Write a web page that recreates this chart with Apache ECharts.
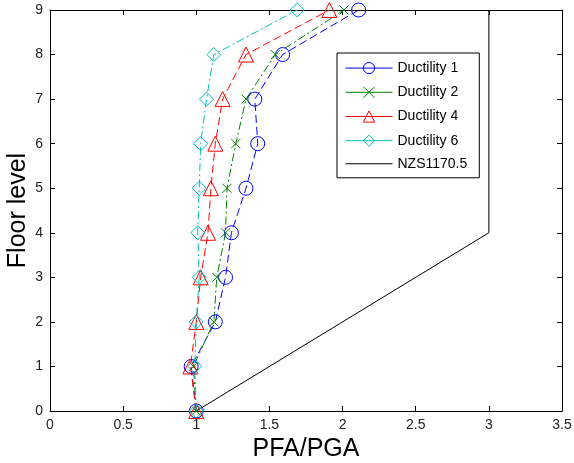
<!DOCTYPE html>
<html>
<head>
<meta charset="utf-8">
<script src="https://cdn.jsdelivr.net/npm/echarts@6/dist/echarts.min.js"></script>
<style>
  html, body { margin: 0; padding: 0; background: #fff; }
  #chart { width: 574px; height: 463px; }
</style>
</head>
<body>
<div id="chart"></div>
<script>
  // floor levels 0..9
  var floors = [0, 1, 2, 3, 4, 5, 6, 7, 8, 9];
  // PFA/PGA per floor
  var ductility1 = [1.00, 0.965, 1.13, 1.20, 1.24, 1.34, 1.42, 1.40, 1.59, 2.11];
  var ductility2 = [1.00, 0.98, 1.12, 1.14, 1.20, 1.21, 1.27, 1.34, 1.54, 2.01];
  var ductility4 = [1.00, 0.96, 1.00, 1.03, 1.08, 1.10, 1.13, 1.18, 1.34, 1.91];
  var ductility6 = [1.00, 0.99, 1.00, 1.02, 1.01, 1.02, 1.03, 1.07, 1.12, 1.69];
  // NZS1170.5 envelope (PFA/PGA, floor)
  var nzsX = [1, 3, 3];
  var nzsY = [0, 4, 9];

  var font = 'Liberation Sans, Arial, sans-serif';
  var chart = echarts.init(document.getElementById('chart'));

  function pairs(xs, ys) {
    var res = [];
    for (var i = 0; i < xs.length; i++) res.push([xs[i], ys[i]]);
    return res;
  }

  function ductSeries(name, vals, color, symbol, size, dash) {
    return {
      name: name,
      type: 'line',
      data: pairs(vals, floors),
      symbol: symbol,
      symbolSize: size,
      showAllSymbol: true,
      lineStyle: { color: color, width: 1, type: dash },
      itemStyle: { color: 'none', borderColor: color, borderWidth: 1 },
      emphasis: { disabled: true },
      animation: false
    };
  }

  var crossPath = 'path://M0,0L10,10M0,10L10,0';
  // plain line sample for the NZS legend entry (corner moves keep the box size)
  var lineIcon = 'path://M0,0M47,14M0,6.5h47v1h-47z';

  var option = {
    backgroundColor: '#fff',
    animation: false,
    textStyle: { fontFamily: font },
    grid: { left: 50, right: 12, top: 10, bottom: 52, outerBoundsMode: 'none' },
    legend: {
      orient: 'vertical',
      left: 337,
      top: 53,
      itemWidth: 47,
      itemHeight: 14,
      itemGap: 8,
      padding: [7, 12, 7, 8],
      borderColor: '#000',
      borderWidth: 1,
      backgroundColor: '#fff',
      lineStyle: { type: 'solid', width: 1 },
      itemStyle: { borderWidth: 1 },
      textStyle: { color: '#000', fontSize: 14, lineHeight: 14, fontFamily: font },
      data: ['Ductility 1', 'Ductility 2', 'Ductility 4', 'Ductility 6',
        { name: 'NZS1170.5', icon: lineIcon }]
    },
    xAxis: [{
      type: 'value',
      min: 0, max: 3.5, interval: 0.5,
      name: 'PFA/PGA',
      nameLocation: 'middle',
      nameGap: 26,
      nameMoveOverlap: false,
      nameTextStyle: { color: '#000', fontSize: 25, fontFamily: font },
      axisLine: { onZero: false, lineStyle: { color: '#000' } },
      axisTick: { inside: true, length: 5, lineStyle: { color: '#000' } },
      axisLabel: { color: '#222', fontSize: 14, margin: 7,
        formatter: function (v) { return String(v); } },
      splitLine: { show: false }
    }, {
      type: 'value', position: 'top',
      min: 0, max: 3.5, interval: 0.5,
      axisLine: { show: true, onZero: false, lineStyle: { color: '#000' } },
      axisTick: { inside: true, length: 5, lineStyle: { color: '#000' } },
      axisLabel: { show: false },
      splitLine: { show: false }
    }],
    yAxis: [{
      type: 'value',
      min: 0, max: 9, interval: 1,
      name: 'Floor level',
      nameLocation: 'middle',
      nameGap: 19,
      nameMoveOverlap: false,
      nameTextStyle: { color: '#000', fontSize: 25, fontFamily: font },
      axisLine: { onZero: false, lineStyle: { color: '#000' } },
      axisTick: { inside: true, length: 5, lineStyle: { color: '#000' } },
      axisLabel: { color: '#222', fontSize: 14, margin: 7 },
      splitLine: { show: false }
    }, {
      type: 'value', position: 'right',
      min: 0, max: 9, interval: 1,
      axisLine: { show: true, onZero: false, lineStyle: { color: '#000' } },
      axisTick: { inside: true, length: 5, lineStyle: { color: '#000' } },
      axisLabel: { show: false },
      splitLine: { show: false }
    }],
    series: [
      ductSeries('Ductility 1', ductility1, '#0000ff', 'circle', 14, [8, 4]),
      ductSeries('Ductility 2', ductility2, '#008000', crossPath, 9, [8, 3, 2, 3]),
      ductSeries('Ductility 4', ductility4, '#ff0000', 'triangle', 15, [8, 4]),
      ductSeries('Ductility 6', ductility6, '#00bfbf', 'diamond', 14, [8, 3, 2, 3]),
      {
        name: 'NZS1170.5',
        type: 'line',
        data: pairs(nzsX, nzsY),
        symbol: 'none',
        lineStyle: { color: '#000', width: 1 },
        itemStyle: { color: '#000' },
        emphasis: { disabled: true },
        animation: false
      }
    ]
  };

  chart.setOption(option);
</script>
</body>
</html>
